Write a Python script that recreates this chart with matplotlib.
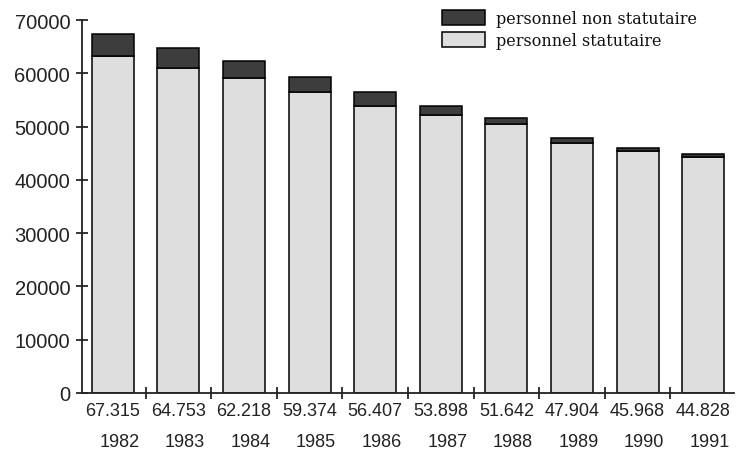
import matplotlib.pyplot as plt
import numpy as np

plt.rcParams["font.family"] = "Liberation Sans"

# ========== data ==========
years = ["1982", "1983", "1984", "1985", "1986", "1987", "1988", "1989", "1990", "1991"]
totals = ["67.315", "64.753", "62.218", "59.374", "56.407", "53.898", "51.642", "47.904", "45.968", "44.828"]
statutaire = [63200, 61000, 59200, 56400, 53950, 52200, 50500, 47000, 45400, 44250]
non_statutaire = [4115, 3753, 3018, 2974, 2457, 1698, 1142, 904, 568, 578]

y_ticks = [0, 10000, 20000, 30000, 40000, 50000, 60000, 70000]

light = "#dedede"
dark = "#3d3d3d"

# ========== figure ==========
fig = plt.figure(figsize=(7.36, 4.6), dpi=100)
ax = fig.add_axes([82 / 736, 66 / 460, 652 / 736, 373 / 460])

x = np.arange(len(years))
w = 0.64
b1 = ax.bar(x, statutaire, width=w, color=light, edgecolor="black",
            linewidth=1.1, label="personnel statutaire")
b2 = ax.bar(x, non_statutaire, width=w, bottom=statutaire, color=dark,
            edgecolor="black", linewidth=1.1, label="personnel non statutaire")

ax.set_xlim(-0.47, 9.47)
ax.set_ylim(0, 70000)

# axes
for s in ["top", "right"]:
    ax.spines[s].set_visible(False)
for s in ["left", "bottom"]:
    ax.spines[s].set_linewidth(1.3)
    ax.spines[s].set_color("#222222")

ax.set_yticks(y_ticks)
ax.set_yticklabels([str(v) for v in y_ticks], fontsize=14.5, color="#222222")
ax.tick_params(axis="y", direction="inout", length=9, width=1.1, pad=4)

ax.set_xticks(x[:-1] + 0.5)
ax.set_xticklabels([])
ax.tick_params(axis="x", direction="inout", length=8, width=1.1)

# labels under the bars
tr = ax.get_xaxis_transform()
for i in range(len(years)):
    ax.text(x[i], -0.047, totals[i], transform=tr, ha="center", va="center",
            fontsize=13, color="#222222")
    ax.text(x[i] + 0.1, -0.13, years[i], transform=tr, ha="center", va="center",
            fontsize=13, color="#222222")

# legend
leg = fig.legend(handles=[b2, b1], labels=["personnel non statutaire", "personnel statutaire"],
                 loc="upper left", bbox_to_anchor=(442 / 736, 1 - 11 / 460),
                 frameon=False, borderpad=0, borderaxespad=0,
                 prop={"family": "DejaVu Serif", "size": 11.5},
                 handlelength=2.7, handleheight=1.1, handletextpad=0.7,
                 labelspacing=0.3)
for t in leg.get_texts():
    t.set_color("#111111")

plt.savefig("out.png", dpi=100)
